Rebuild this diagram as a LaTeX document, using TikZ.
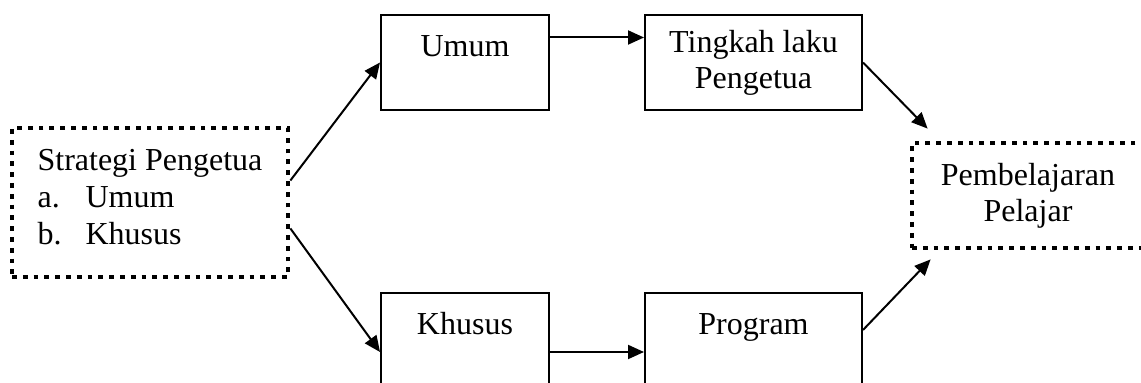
\documentclass[tikz,border=0pt]{standalone}
\usepackage{fontspec}
\setmainfont{Liberation Serif}
\usetikzlibrary{arrows.meta,positioning}

\begin{document}
\begin{tikzpicture}[x=0.5pt, y=-0.5pt, node distance=47pt,
    font=\fontsize{16}{18}\selectfont,
    box/.style={draw, line width=1pt, inner sep=0pt, align=center},
    topbox/.style={box, text height=21pt},
    dotbox/.style={draw, line width=2.4pt, dash pattern=on 2.4pt off 3pt, inner sep=0pt},
    link/.style={line width=1pt, -{Triangle[length=8pt,width=7pt]}}]
  \clip (0,0) rectangle (1141,383);
  % left and right dotted boxes
  \node[dotbox, align=left, minimum width=138pt, minimum height=74.5pt] (strat) at (150,202.5)
    {Strategi Pengetua\\[0.5pt] \makebox[24pt][l]{a.}Umum\\[0.5pt] \makebox[24pt][l]{b.}Khusus\\[-12pt]};
  \node[dotbox, align=center, minimum width=116pt, minimum height=52.5pt] (pemb) at (1028,195.5) {Pembelajaran\\ Pelajar};
  % upper row
  \node[topbox, minimum width=84pt, text depth=26.5pt] (umum) at (465,62.5) {Umum};
  \node[box, minimum width=108.5pt, minimum height=47.5pt, right=of umum] (tingkah) {Tingkah laku\\ Pengetua};
  % lower row
  \node[topbox, minimum width=84pt, text depth=38pt, below=90.5pt of umum] (khusus) {Khusus};
  \node[topbox, minimum width=108.5pt, text depth=38pt, right=of khusus] (program) {Program};
  % connectors
  \draw[link] ([yshift=11pt]strat.east) -- (umum.west);
  \draw[link] ([yshift=-13pt]strat.east) -- (khusus.west);
  \draw[link] ([yshift=12.5pt]umum.east) -- ([yshift=12.5pt]umum.east -| tingkah.west);
  \draw[link] (khusus.east) -- (program.west);
  \draw[link] (tingkah.east) -- ([shift={(9pt,6pt)}]pemb.north west);
  \draw[link] ([yshift=11pt]program.east) -- ([shift={(10.5pt,-4.5pt)}]pemb.south west);
\end{tikzpicture}
\end{document}
